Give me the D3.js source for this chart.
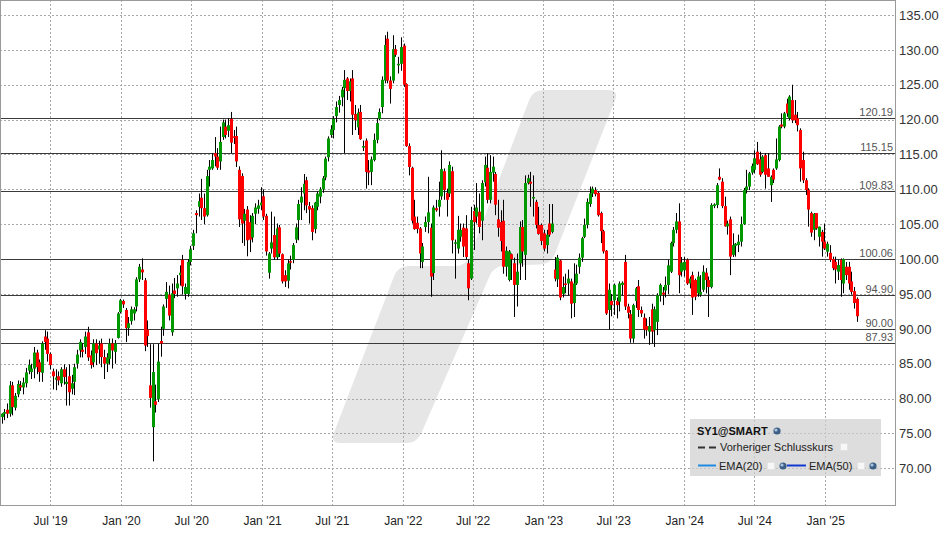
<!DOCTYPE html>
<html><head><meta charset="utf-8">
<script src="https://cdn.jsdelivr.net/npm/d3@7"></script>
<style>html,body{margin:0;padding:0;background:#fff;} svg{display:block;font-family:"Liberation Sans",Arial,sans-serif;}</style>
</head><body><svg id="chart" width="948" height="534"></svg>
<script>
// ---------- DATA ----------
const startDate = "2019-02-25";   // first weekly candle, one candle per week
// [open, high, low, close]
const ohlc = [
[77.35,77.9,76.4,77.83],[77.83,78.5,76.9,78.07],[78.4,79.3,77.2,77.83],[77.83,82.5,77.4,81.89],[81.89,82.4,77.6,78.78],
[78.7,80.8,78.3,80.4],[80.6,82.6,80.2,82.1],[81.9,82.5,81.1,81.6],[81.6,83.0,80.6,82.3],[82.2,84.4,81.6,83.75],
[84.0,85.6,83.5,84.8],[83.8,85.0,82.8,84.3],[84.3,87.4,82.9,86.6],[86.6,87.0,83.5,84.5],[85.2,85.6,82.4,83.8],
[83.7,88.2,82.4,87.9],[88.9,89.8,87.0,88.1],[88.6,89.6,85.3,86.4],[86.4,86.6,84.2,84.8],[83.9,84.3,81.3,83.2],
[82.7,84.2,81.2,83.0],[83.2,83.9,81.9,82.6],[82.2,84.5,81.7,84.2],[84.2,84.9,82.0,83.1],[82.1,84.5,79.0,82.4],
[83.2,84.9,79.0,80.9],[81.4,83.4,80.6,82.2],[82.4,85.0,80.5,84.5],[85.0,87.0,84.3,86.3],[86.9,88.5,85.9,88.1],
[87.0,87.9,85.9,86.7],[87.4,89.6,86.4,88.9],[89.5,90.3,85.4,85.9],[86.2,86.9,84.3,84.8],[85.2,88.5,84.5,87.9],
[87.9,88.5,84.8,86.5],[87.05,88.3,85.0,87.6],[87.9,88.6,84.5,85.95],[85.95,87.0,82.8,85.0],[85.0,86.5,83.8,85.9],
[85.7,88.6,84.9,87.9],[87.9,88.6,84.3,86.9],[86.7,88.4,85.0,87.9],[88.7,92.4,88.6,92.2],[92.4,94.3,92.2,94.1],
[94.0,94.2,93.0,93.5],[92.7,93.0,88.1,90.1],[90.1,91.7,89.0,90.8],[91.1,93.2,90.6,92.8],[92.2,93.1,91.2,92.8],
[93.2,97.4,92.5,97.1],[97.1,99.3,96.7,98.9],[98.5,100.1,97.0,98.1],[96.95,97.3,86.8,87.6],[89.9,91.2,87.4,88.96],
[81.9,87.8,78.7,80.1],[75.9,87.8,71.0,83.8],[79.6,82.0,78.0,79.1],[79.9,87.9,79.5,85.3],[88.25,90.3,86.0,87.9],
[90.0,93.5,89.0,93.2],[94.3,96.7,93.0,95.3],[94.9,96.2,91.2,91.9],[89.5,96.5,89.0,95.1],[95.5,97.3,94.4,95.0],
[95.8,97.7,94.6,96.5],[97.7,99.1,96.2,98.05],[99.9,100.6,94.9,96.1],[95.0,96.5,94.2,96.0],[95.0,100.0,94.6,99.6],
[99.6,101.9,99.1,101.4],[101.9,104.2,101.3,103.7],[106.6,107.0,103.7,106.3],[107.5,109.4,106.1,108.3],[108.8,111.5,105.6,107.3],
[107.3,109.4,105.0,106.1],[106.3,112.8,106.1,111.9],[112.8,114.2,110.4,113.25],[113.0,115.2,112.8,114.2],[115.2,117.5,113.3,114.7],
[114.7,115.9,112.8,113.1],[114.0,119.0,112.8,116.8],[117.5,120.0,117.1,119.6],[119.0,120.0,117.3,117.8],[118.4,120.2,117.5,119.2],
[120.1,121.1,115.2,116.7],[117.6,118.5,116.5,117.45],[117.65,119.0,113.2,114.0],[112.8,113.3,104.6,105.7],[111.9,112.3,102.3,105.1],
[105.5,107.2,101.9,106.5],[107.1,107.6,100.4,102.7],[105.3,106.3,101.0,102.8],[103.1,106.6,102.4,106.2],[106.5,108.0,105.0,107.4],
[107.2,108.5,106.5,107.7],[107.7,110.3,107.0,108.1],[109.0,110.0,105.6,106.1],[106.2,106.5,100.5,101.1],[98.05,101.0,97.2,100.8],
[101.5,106.8,100.8,102.4],[103.45,106.1,99.9,100.25],[100.25,105.1,99.9,104.4],[104.55,104.9,100.3,100.8],[100.7,100.8,96.5,96.8],
[97.7,98.4,96.0,96.8],[96.9,99.9,95.8,99.4],[99.7,100.5,98.5,99.5],[99.9,102.3,99.4,102.0],[102.8,105.1,102.3,104.55],
[105.6,108.5,102.7,107.9],[108.1,110.3,105.6,108.95],[109.4,112.2,107.0,110.8],[111.3,111.8,106.6,107.7],[107.6,108.2,105.1,107.1],
[107.3,107.7,102.7,103.9],[104.3,108.2,103.7,108.1],[107.5,109.7,107.0,109.4],[108.95,110.3,108.0,110.0],[110.0,111.9,109.5,111.6],
[111.7,114.7,111.3,114.4],[114.6,117.6,114.0,117.3],[117.8,119.2,117.4,118.6],[118.5,120.5,117.3,120.1],[120.5,122.6,119.6,121.8],
[122.1,123.4,121.0,122.8],[123.2,124.7,121.9,124.3],[124.5,127.1,115.2,125.7],[125.9,126.1,122.8,124.1],[124.1,125.9,122.6,125.5],
[125.9,127.1,117.8,120.7],[120.8,122.1,118.5,119.9],[118.9,121.6,117.8,121.0],[121.1,122.1,117.1,117.2],[116.0,117.0,115.5,116.2],
[117.0,117.3,110.1,112.5],[112.7,114.2,110.6,112.4],[112.5,114.7,110.6,114.3],[114.2,118.0,114.0,117.1],[117.1,120.2,116.6,119.5],
[120.1,121.6,119.9,121.1],[121.8,126.2,120.9,125.7],[125.6,132.1,125.2,130.7],[131.6,132.6,125.2,125.6],[125.6,126.2,122.3,124.4],
[125.6,132.1,125.2,130.1],[130.1,130.7,129.0,129.3],[127.8,129.0,126.6,128.0],[128.0,131.8,127.0,130.4],[130.6,130.9,124.7,125.0],
[125.1,125.2,116.1,116.2],[116.2,116.6,112.0,113.2],[113.1,113.25,105.1,105.5],[106.1,108.5,104.2,104.3],[105.2,106.1,103.7,104.3],
[104.4,104.6,98.7,100.8],[99.6,102.3,98.7,101.8],[104.6,106.1,103.9,105.3],[105.3,111.8,103.7,106.7],[104.5,105.1,94.6,97.5],
[98.0,107.7,97.0,107.4],[107.3,108.5,106.8,107.0],[107.5,111.1,106.1,108.5],[109.0,115.6,108.5,112.9],[112.6,113.0,108.5,109.9],
[109.5,110.1,106.1,108.5],[109.4,114.0,108.9,113.5],[112.6,113.25,100.8,102.7],[102.2,102.8,97.2,102.4],[101.5,106.2,100.8,104.2],
[103.2,105.1,102.5,104.2],[104.5,105.1,100.3,101.8],[104.4,106.3,99.9,100.3],[99.4,99.9,94.1,95.8],[97.2,107.5,97.0,105.6],
[106.9,107.8,101.3,105.3],[106.1,110.9,105.1,107.4],[106.8,109.4,103.7,104.6],[105.5,111.3,102.7,110.9],[111.0,114.7,110.4,113.5],
[113.1,115.2,108.0,108.5],[108.5,114.9,108.0,112.5],[112.4,114.7,111.1,113.25],[112.2,112.5,106.3,107.8],[105.7,108.5,103.2,104.5],
[105.3,107.0,101.1,102.6],[105.5,108.5,97.9,98.9],[98.9,101.8,97.5,101.2],[97.0,101.3,96.8,101.1],[100.7,100.8,97.0,100.0],
[99.4,100.2,91.7,96.3],[96.3,100.8,93.2,98.2],[99.4,105.4,97.0,104.6],[104.6,105.6,98.9,101.1],[100.6,112.0,97.0,110.9],
[110.9,112.1,110.7,111.6],[111.1,112.5,107.5,110.8],[108.7,112.0,106.1,108.9],[108.2,108.5,104.4,104.9],[104.9,107.5,103.5,103.6],
[104.9,105.1,102.0,102.6],[103.7,104.2,101.1,101.5],[102.0,104.2,100.8,103.5],[105.1,107.9,103.2,103.5],[103.9,107.9,103.7,105.1],
[98.5,100.3,96.8,97.2],[97.1,100.6,96.0,100.2],[99.8,99.9,94.1,94.5],[95.0,97.5,94.5,96.0],[96.5,97.9,95.1,96.3],
[96.5,98.5,94.8,97.2],[96.8,97.2,91.5,93.6],[93.7,99.4,91.7,96.5],[96.5,99.2,96.3,97.9],[98.9,100.8,97.9,100.2],
[100.2,103.2,99.6,103.0],[103.2,105.8,103.0,104.9],[104.9,108.7,104.4,108.2],[107.9,110.4,107.5,109.4],[109.4,110.4,108.9,110.1],
[109.9,110.3,109.0,109.3],[109.5,109.7,106.1,106.3],[106.6,106.8,102.3,104.0],[104.0,104.2,100.8,101.1],[101.2,101.3,92.0,92.2],
[92.7,96.5,89.9,95.6],[94.0,95.0,91.8,93.4],[94.1,96.5,92.0,96.3],[94.0,94.5,91.5,93.4],[93.9,96.8,92.5,96.5],
[96.3,96.8,94.8,96.6],[99.6,100.6,92.7,93.2],[93.2,93.6,91.5,92.3],[92.1,92.7,88.0,88.6],[88.6,93.6,88.0,93.4],
[94.0,96.0,93.0,95.8],[96.1,97.0,91.7,92.7],[92.7,93.2,91.7,92.2],[91.6,92.2,88.6,89.9],[90.4,91.5,89.0,89.8],
[89.6,91.7,87.7,90.4],[92.8,93.6,87.9,89.6],[89.8,93.2,87.4,92.8],[91.0,95.1,89.1,94.8],[94.8,96.5,93.9,96.3],
[95.2,96.0,93.4,94.9],[95.5,97.5,94.5,96.3],[96.3,99.9,95.0,99.1],[98.2,102.5,98.0,102.3],[102.3,104.6,101.8,104.2],
[104.2,106.6,103.7,105.4],[105.4,108.0,95.1,97.7],[98.2,100.3,97.5,99.5],[98.4,100.3,97.5,99.6],[99.9,100.1,96.3,96.5],
[96.5,97.5,95.8,97.2],[97.7,98.2,92.0,94.5],[97.0,97.2,94.1,94.6],[95.1,98.2,94.6,97.5],[94.9,97.7,94.6,95.3],
[95.6,99.1,95.3,98.2],[98.05,98.7,95.1,97.0],[97.0,97.5,91.7,96.0],[96.0,108.0,95.8,107.75],[107.6,108.0,107.3,107.85],
[107.75,110.9,107.3,110.6],[111.8,113.0,111.3,111.4],[111.1,111.6,107.3,107.6],[107.6,108.95,104.65,104.7],[104.7,105.5,103.5,105.1],
[105.7,106.1,97.7,100.35],[100.6,103.7,100.3,102.0],[101.9,102.3,100.35,102.2],[102.0,103.5,101.0,102.5],[102.5,106.1,101.8,105.0],
[105.0,110.2,104.9,109.9],[109.9,112.8,109.4,110.4],[110.4,112.5,109.9,112.3],[112.4,113.7,112.1,113.35],[112.8,115.6,112.3,114.45],
[115.4,116.8,113.5,113.6],[114.3,115.4,111.8,112.1],[112.5,114.9,112.3,114.7],[114.9,115.2,110.1,112.1],[113.0,115.2,111.8,111.8],
[110.6,112.0,108.2,111.8],[112.8,113.0,110.9,111.4],[113.0,117.3,112.8,114.3],[114.2,119.2,114.0,119.0],[119.3,120.9,118.75,119.0],
[119.0,121.1,118.75,120.9],[122.3,123.0,120.4,120.9],[120.2,123.5,119.9,123.3],[122.8,125.0,119.5,119.9],[120.7,122.8,119.5,119.9],
[120.2,121.1,118.3,119.2],[118.5,118.75,111.1,113.0],[114.2,115.4,110.9,111.3],[111.3,111.6,109.2,109.9],[109.9,110.15,104.65,107.1],
[106.6,106.8,103.2,103.8],[104.2,106.6,102.7,106.5],[106.6,106.6,104.2,104.4],[103.2,104.65,101.8,104.65],[103.9,104.2,100.35,102.5],
[102.5,105.1,101.3,101.5],[101.06,102.5,100.35,102.2],[100.9,102.0,99.6,99.9],[100.0,100.35,98.4,98.7],[99.6,100.35,96.5,98.5],
[98.2,99.9,97.0,99.15],[99.9,100.1,94.6,97.0],[96.5,100.1,95.1,100.0],[98.9,99.6,97.0,97.7],[98.9,99.6,95.6,96.5],
[96.8,98.2,94.9,95.3],[95.4,96.0,92.9,93.7],[94.3,94.5,91.0,91.8]
];
const levels = [120.19, 115.15, 109.83, 100.06, 94.90, 90.00, 87.93];
const yTicks = [70, 75, 80, 85, 90, 95, 100, 105, 110, 115, 120, 125, 130, 135];
const xTicks = ["2019-07-01","2020-01-01","2020-07-01","2021-01-01","2021-07-01","2022-01-01",
                "2022-07-01","2023-01-01","2023-07-01","2024-01-01","2024-07-01","2025-01-01"];
const legendTitle = "SY1@SMART";
const legendPrev = "Vorheriger Schlusskurs";
const legendEma = ["EMA(20)", "EMA(50)"];

// ---------- CHART ----------
const svg = d3.select("#chart");
const PW = 895, PH = 505;
const parse = d3.utcParse("%Y-%m-%d");
const x = d3.scaleUtc().domain([parse("2019-02-21"), parse("2025-07-01")]).range([0, PW]);
const y = d3.scaleLinear().domain([64.74, 137.15]).range([PH, 0]);
const start = parse(startDate);
const candles = ohlc.map((d, i) => ({date: d3.utcDay.offset(start, 7 * i), o: d[0], h: d[1], l: d[2], c: d[3]}));

svg.append("rect").attr("width", 948).attr("height", 534).attr("fill", "#fff");

// watermark
function roundedPath(pts, r) {
  let d = ""; const n = pts.length;
  for (let k = 0; k < n; k++) {
    const p0 = pts[(k - 1 + n) % n], p1 = pts[k], p2 = pts[(k + 1) % n];
    const u = (a, b) => { const dx = a[0]-b[0], dy = a[1]-b[1], L = Math.hypot(dx, dy); return [dx/L, dy/L]; };
    const v1 = u(p0, p1), v2 = u(p2, p1);
    const a = [p1[0] + v1[0]*r, p1[1] + v1[1]*r], b = [p1[0] + v2[0]*r, p1[1] + v2[1]*r];
    d += (k === 0 ? "M" : "L") + a[0] + "," + a[1] + "Q" + p1[0] + "," + p1[1] + " " + b[0] + "," + b[1];
  }
  return d + "Z";
}
svg.append("path")
  .attr("d", roundedPath([[533,90],[619,90],[551,264],[494,266],[417,443],[330,443],[398,266],[466,266]], 11))
  .attr("fill", "#e6e6e6");

// gridlines
const grid = svg.append("g").attr("stroke", "#a8a8a8").attr("stroke-dasharray", "2,2").attr("stroke-width", 1);
xTicks.forEach(t => {
  const xx = Math.round(x(parse(t))) + 0.5;
  grid.append("line").attr("x1", xx).attr("x2", xx).attr("y1", 0).attr("y2", PH);
});
yTicks.forEach(v => {
  const yy = Math.round(y(v)) + 0.5;
  grid.append("line").attr("x1", 0).attr("x2", PW).attr("y1", yy).attr("y2", yy);
});

// level lines
const lv = svg.append("g");
levels.forEach(v => {
  const yy = Math.round(y(v)) + 0.5;
  lv.append("line").attr("x1", 0).attr("x2", PW).attr("y1", yy).attr("y2", yy)
    .attr("stroke", "#3a3a3a").attr("stroke-width", 1.2);
  lv.append("text").attr("x", 893).attr("y", yy - 3).attr("text-anchor", "end")
    .attr("font-size", 11).attr("fill", "#555").text(v.toFixed(2));
});

// candles
const cg = svg.append("g");
candles.forEach(d => {
  const cx = Math.round(x(d.date));
  cg.append("line").attr("x1", cx + 0.5).attr("x2", cx + 0.5).attr("y1", y(d.h)).attr("y2", y(d.l))
    .attr("stroke", "#000").attr("stroke-width", 1);
  const top = y(Math.max(d.o, d.c)), bot = y(Math.min(d.o, d.c));
  cg.append("rect").attr("x", cx - 1).attr("width", 3).attr("y", top).attr("height", Math.max(1.5, bot - top))
    .attr("fill", d.c >= d.o ? "#009900" : "#ff0000");
});

// frame
svg.append("rect").attr("x", 0.5).attr("y", 0.5).attr("width", PW).attr("height", PH)
  .attr("fill", "none").attr("stroke", "#9a9a9a").attr("stroke-width", 1);

// axes
const xAxis = d3.axisBottom(x).tickValues(xTicks.map(parse)).tickFormat(d3.utcFormat("%b '%y")).tickSize(0).tickPadding(11);
const gx = svg.append("g").attr("transform", `translate(0,${PH})`).call(xAxis);
gx.select(".domain").remove();
gx.selectAll("text").attr("font-size", 12).attr("fill", "#222").attr("font-family", "Liberation Sans, Arial, sans-serif");

const yAxis = d3.axisRight(y).tickValues(yTicks).tickFormat(d3.format(".2f")).tickSize(0).tickPadding(4);
const gy = svg.append("g").attr("transform", `translate(${PW},0)`).call(yAxis);
gy.select(".domain").remove();
gy.selectAll("text").attr("font-size", 13).attr("fill", "#333").attr("font-family", "Liberation Sans, Arial, sans-serif");

// legend
const lg = svg.append("g").attr("font-size", 11);
lg.append("rect").attr("x", 690).attr("y", 419).attr("width", 191).attr("height", 57)
  .attr("fill", "#cfcfcf").attr("fill-opacity", 0.7);
function icon(cx, cy) {
  lg.append("circle").attr("cx", cx).attr("cy", cy).attr("r", 3.6).attr("fill", "#3d5f86");
  lg.append("circle").attr("cx", cx - 1).attr("cy", cy - 1).attr("r", 1.6).attr("fill", "#a9c4e0");
}
function box(bx, by) {
  lg.append("rect").attr("x", bx).attr("y", by).attr("width", 7).attr("height", 7)
    .attr("fill", "#f7f7f7").attr("stroke", "#e2e2e2").attr("stroke-width", 0.8);
}
lg.append("text").attr("x", 697).attr("y", 435).attr("font-weight", "bold").attr("fill", "#111").text(legendTitle);
icon(777, 431);
lg.append("line").attr("x1", 698).attr("x2", 716).attr("y1", 447.5).attr("y2", 447.5)
  .attr("stroke", "#333").attr("stroke-width", 2).attr("stroke-dasharray", "7,4");
lg.append("text").attr("x", 720).attr("y", 451).attr("fill", "#222").text(legendPrev);
box(840.5, 443.5);
lg.append("line").attr("x1", 698).attr("x2", 716).attr("y1", 465.5).attr("y2", 465.5)
  .attr("stroke", "#1e8be0").attr("stroke-width", 2);
lg.append("text").attr("x", 719).attr("y", 470).attr("fill", "#222").text(legendEma[0]);
box(767.5, 462.5);
icon(783, 466);
lg.append("line").attr("x1", 787).attr("x2", 806).attr("y1", 465.5).attr("y2", 465.5)
  .attr("stroke", "#1238d0").attr("stroke-width", 2);
lg.append("text").attr("x", 809).attr("y", 470).attr("fill", "#222").text(legendEma[1]);
box(857.5, 462.5);
icon(873, 466);
</script></body></html>
